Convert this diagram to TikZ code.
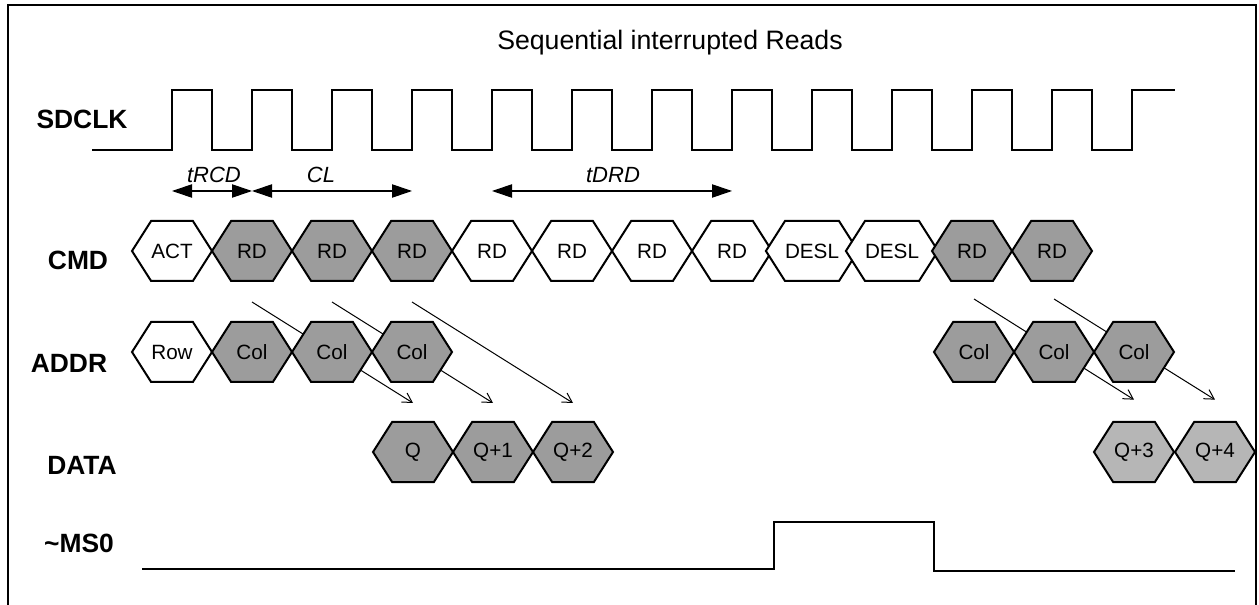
\documentclass[tikz,border=0pt]{standalone}
\usepackage{fontspec}
\setmainfont{Liberation Sans}
\usetikzlibrary{arrows.meta}
\usetikzlibrary{shapes.symbols}

\definecolor{busgray}{RGB}{156,156,156}
\definecolor{datagray}{RGB}{182,182,182}

\begin{document}
\begin{tikzpicture} [x=0.75pt, y=-0.75pt,
        every node/.style={inner sep=0pt},
        hexa/.style={draw, fill=white, line width=1.5pt, signal, signal to=west and east, signal pointer angle=115,
            minimum width=60pt, minimum height=45pt, font=\fontsize{15.5}{18}\selectfont},
        busy/.style={hexa, fill=busgray},
        signame/.style={anchor=base, font=\fontsize{19.8}{22}\selectfont\bfseries},
        dimtext/.style={anchor=base, font=\fontsize{16.5}{19}\selectfont\itshape},
        trace/.style={line width=1.5pt},
        dimarrow/.style={line width=0.8pt, {Triangle[length=15pt,width=10pt]}-{Triangle[length=15pt,width=10pt]}},
        barb/.style={line width=0.75pt, -{Straight Barb[length=7pt,width=8pt]}}]
            \useasboundingbox (0,0) rectangle (1259,605);
            \draw[trace] (8,615) -- (8,5) -- (1256,5) -- (1256,615);

            \node[anchor=base] (title) at (670,50) {\fontsize{20}{24}\selectfont Sequential interrupted Reads};

            \node[signame] (lclk)  at (82,129) {SDCLK};
            \node[signame] (lcmd)  at (78,270) {CMD};
            \node[signame] (laddr) at (69,373) {ADDR};
            \node[signame] (ldata) at (82,474) {DATA};
            \node[signame] (lms)   at (79,552) {\textasciitilde MS0};

            \draw[trace] (92,150) -- ++(80,0)
                \foreach \k in {1,...,12} { -- ++(0,-60) -- ++(40,0) -- ++(0,60) -- ++(40,0) }
                -- ++(0,-60) -- ++(43,0);

            \coordinate (e0) at (172,191);
            \coordinate (e1) at (252,191);
            \coordinate (e3) at (412,191);
            \coordinate (e4) at (492,191);
            \coordinate (e7) at (732,191);
            \draw[dimarrow] (e0) -- (e1);
            \draw[dimarrow] (e1) -- (e3);
            \draw[dimarrow] (e4) -- (e7);
            \node[dimtext] (trcd) at (214,183) {tRCD};
            \node[dimtext] (cl)   at (321,183) {CL};
            \node[dimtext] (tdrd) at (613,183) {tDRD};

            \node[hexa] (c0)  at (172,251)  {ACT};
            \node[busy] (c1)  at (252,251)  {RD};
            \node[busy] (c2)  at (332,251)  {RD};
            \node[busy] (c3)  at (412,251)  {RD};
            \node[hexa] (c4)  at (492,251)  {RD};
            \node[hexa] (c5)  at (572,251)  {RD};
            \node[hexa] (c6)  at (652,251)  {RD};
            \node[hexa] (c7)  at (732,251)  {RD};
            \node[hexa] (c8)  at (812,251)  {DESL};
            \node[hexa] (c9)  at (892,251)  {DESL};
            \node[busy] (c10) at (972,251)  {RD};
            \node[busy] (c11) at (1052,251) {RD};

            \node[busy] (q0) at (413,452)  {Q};
            \node[busy] (q1) at (493,452)  {Q+1};
            \node[busy] (q2) at (573,452)  {Q+2};
            \node[busy, fill=datagray] (q3) at (1134,452) {Q+3};
            \node[busy, fill=datagray] (q4) at (1215,452) {Q+4};

            \draw[barb] ([yshift=-15pt]c1.south) -- ([yshift=13.5pt]q0.north);
            \draw[barb] ([yshift=-15pt]c2.south) -- ([yshift=13.5pt]q1.north);
            \draw[barb] ([yshift=-15pt]c3.south) -- ([yshift=13.5pt]q2.north);
            \draw[barb] ([xshift=1.5pt,yshift=-12.75pt]c10.south) -- ([yshift=16pt]q3.north);
            \draw[barb] ([xshift=1.5pt,yshift=-12.75pt]c11.south) -- ([yshift=16pt]q4.north);

            \node[hexa] (a0) at (172,352)  {Row};
            \node[busy] (a1) at (252,352)  {Col};
            \node[busy] (a2) at (332,352)  {Col};
            \node[busy] (a3) at (412,352)  {Col};
            \node[busy] (a4) at (974,352)  {Col};
            \node[busy] (a5) at (1054,352) {Col};
            \node[busy] (a6) at (1134,352) {Col};

            \draw[trace] (142,569) -- (774,569) -- (774,522) -- (934,522) -- (934,571) -- (1235,571);
        \end{tikzpicture}
\end{document}
